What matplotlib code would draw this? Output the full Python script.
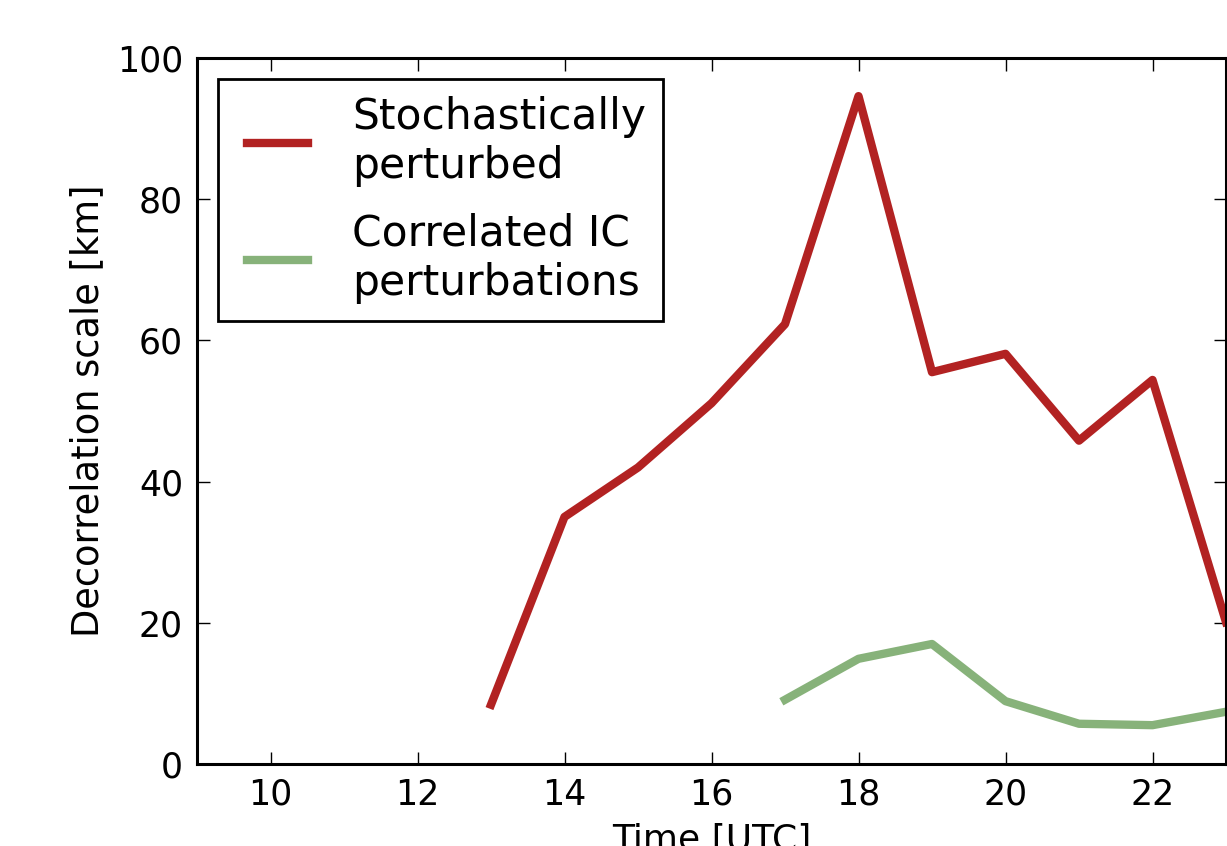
import numpy as np
import matplotlib
matplotlib.use('Agg')
import matplotlib.pyplot as plt
from matplotlib.lines import Line2D
from matplotlib.legend_handler import HandlerLine2D

#%% data
hours_stoch = [13, 14, 15, 16, 17, 18, 19, 20, 21, 22, 23]
decorr_stoch = [8.4, 35.0, 42.0, 51.1, 62.3, 94.6, 55.5, 58.1, 45.8, 54.4, 20.1]

hours_ic = [17, 18, 19, 20, 21, 22, 23]
decorr_ic = [9.1, 14.9, 17.0, 8.9, 5.7, 5.5, 7.4]

xticks = [10, 12, 14, 16, 18, 20, 22]
yticks = [0, 20, 40, 60, 80, 100]

#%%
fig = plt.figure(figsize=(12.27, 8.46), dpi=100)
ax = fig.add_axes([197/1227., 82/846., 1029/1227., 706/846.])

ax.plot(hours_stoch, decorr_stoch, color='#b22222', lw=6,
        label='Stochastically\nperturbed')
ax.plot(hours_ic, decorr_ic, color='#87b27a', lw=6,
        label='Correlated IC\nperturbations')

ax.set_xlim(9, 23)
ax.set_ylim(0, 100)
ax.set_xticks(xticks)
ax.set_yticks(yticks)
ax.tick_params(direction='in', length=9, width=1, labelsize=25, pad=10,
               top=True, right=True)
for s in ax.spines.values():
    s.set_linewidth(2.2)

ax.set_xlabel('Time [UTC]', fontsize=26, labelpad=8)
ax.set_ylabel('Decorrelation scale [km]', fontsize=26.5, labelpad=8)

leg = ax.legend(loc='upper left', fontsize=30.5, handlelength=1.72,
                handletextpad=1.05, fancybox=False, framealpha=1,
                edgecolor='black', borderaxespad=0.5, labelspacing=0.62,
                handler_map={Line2D: HandlerLine2D(xpad=0.28)})
leg.get_frame().set_linewidth(2)

plt.savefig('out.png', dpi=100)
